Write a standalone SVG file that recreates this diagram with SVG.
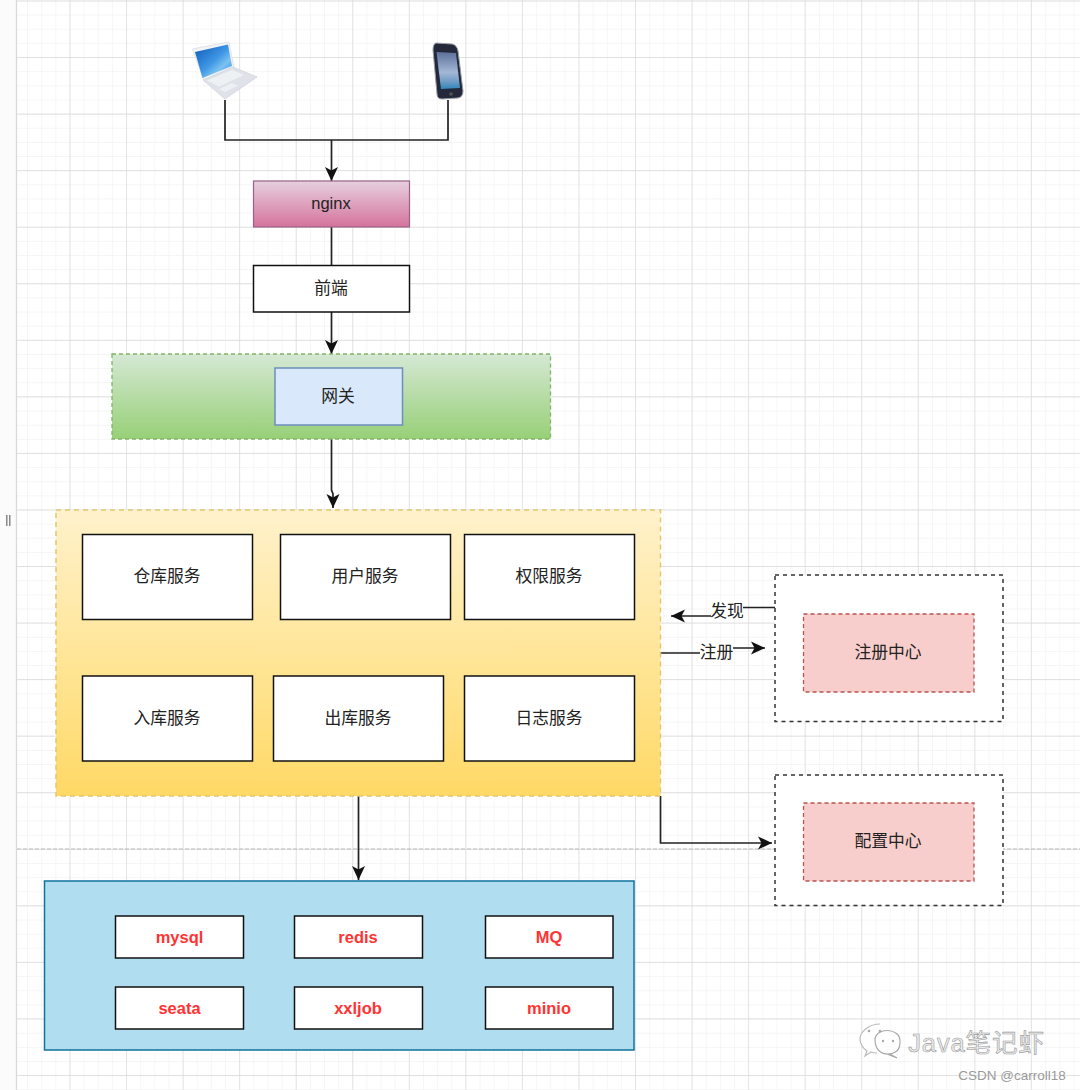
<svg xmlns="http://www.w3.org/2000/svg" width="1080" height="1090" viewBox="0 0 1080 1090">
<defs>
<pattern id="gridMinor" x="69.5" y="0.5" width="14.14" height="14.14" patternUnits="userSpaceOnUse"><path d="M14.14 0H0V14.14" fill="none" stroke="#f2f2f2" stroke-width="1.3"/></pattern>
<pattern id="gridMajor" x="69.5" y="0.5" width="56.55" height="56.55" patternUnits="userSpaceOnUse"><path d="M56.55 0H0V56.55" fill="none" stroke="#d9d9d9" stroke-width="1.3"/></pattern>
<linearGradient id="gPink" x1="0" y1="0" x2="0" y2="1"><stop offset="0" stop-color="#e6d0de"/><stop offset="1" stop-color="#d5739d"/></linearGradient>
<linearGradient id="gGreen" x1="0" y1="0" x2="0" y2="1"><stop offset="0" stop-color="#d5e8d4"/><stop offset="1" stop-color="#97d077"/></linearGradient>
<linearGradient id="gYellow" x1="0" y1="0" x2="0" y2="1"><stop offset="0" stop-color="#fff2cc"/><stop offset="1" stop-color="#ffd966"/></linearGradient>
<linearGradient id="gScreen" x1="0" y1="0" x2="1" y2="1"><stop offset="0" stop-color="#0d58b8"/><stop offset="0.5" stop-color="#3f97e4"/><stop offset="0.7" stop-color="#7cc2f2"/><stop offset="1" stop-color="#2a7fd6"/></linearGradient>
<linearGradient id="gPhone" x1="0" y1="0" x2="0" y2="1"><stop offset="0" stop-color="#5c7199"/><stop offset="0.55" stop-color="#a3b7d6"/><stop offset="0.8" stop-color="#6f9cc4"/><stop offset="1" stop-color="#2f86b8"/></linearGradient>
<marker id="arrow" markerUnits="userSpaceOnUse" markerWidth="16" markerHeight="16" refX="15" refY="8" orient="auto"><path d="M1 1.500L15 8L1 14.500L4.500 8Z" fill="#111"/></marker>
<style>
.box{fill:#fff;stroke:#111;stroke-width:1.5}
.inner{fill:#f8cecc;stroke:#b85450;stroke-width:1.3;stroke-dasharray:4 3}
.outer{fill:#fff;stroke:#333;stroke-width:1.5;stroke-dasharray:4 4}
.conn{fill:none;stroke:#222;stroke-width:1.7}
.arr{marker-end:url(#arrow)}
text{text-anchor:middle}
.t{font-family:"Noto Sans CJK SC","Liberation Sans",sans-serif;font-size:16.800px;fill:#222}
.n{font-family:"Liberation Sans",Arial,sans-serif;font-size:16.500px;fill:#222}
.r{font-family:"Liberation Sans",Arial,sans-serif;font-size:16.500px;font-weight:bold;fill:#ff3333}
</style>
</defs>
<rect width="1080" height="1090" fill="#fff"/>
<g id="grid">
<rect x="16.500" width="1063.500" height="1090" fill="url(#gridMinor)"/>
<rect x="16.500" width="1063.500" height="1090" fill="url(#gridMajor)"/>
<rect width="16" height="1090" fill="#fbfbfb"/>
<line x1="16.500" y1="0" x2="16.500" y2="1090" stroke="#d9d9d9" stroke-width="1.300"/>
<path d="M6 515h1.500v11H6zM9 515h1.500v11H9z" fill="#888"/>
<line x1="17" y1="849" x2="1080" y2="849" stroke="#bdbdbd" stroke-width="1.200" stroke-dasharray="4 2"/>
</g>
<g id="laptop">
<path d="M192.500 49L229 42L234 68L204 81Z" fill="#f2f4f7" stroke="#dfe3e8"/>
<path d="M195 52L228 44.500L232 66L202.500 78Z" fill="url(#gScreen)"/>
<path d="M203 80L233 67L257 77L225 99Z" fill="#dfe3e9" stroke="#cfd4db" stroke-width="0.800"/>
<path d="M206 80.500L232 69.500L245 75L219 87Z" fill="#eef1f4" stroke="#d6dbe1" stroke-width="0.500"/>
<path d="M219 89L232 83L238 85.500L225 92Z" fill="#edf0f3"/>
</g>
<g id="phone">
<path d="M436 43L452 44Q457 45 458 51L463 91Q463 97 458 98L442 99Q437 99 437 94L433 50Q433 44 436 43Z" fill="#23283a" stroke="#9a9fa6" stroke-width="1"/>
<path d="M436.500 52L456 53L460 88L441 89Z" fill="url(#gPhone)"/>
<circle cx="451" cy="94" r="1.800" fill="#555"/>
</g>
<g id="connectors">
<path class="conn" d="M225 100V140H331"/>
<path class="conn" d="M448 100V140H331"/>
<path class="conn arr" d="M331.500 140V181"/>
<path class="conn" d="M331.500 227V265"/>
<path class="conn arr" d="M331.500 312V354"/>
<path class="conn arr" d="M331.500 439V490L333 494V508"/>
<path class="conn arr" d="M358.500 796V880"/>
<path class="conn arr" d="M660 653H716V648H765"/>
<path class="conn arr" d="M775 607.500H740V616H671"/>
<path class="conn arr" d="M660.500 796V843H772"/>
</g>
<g id="nginx"><rect x="253.500" y="181" width="156" height="46" fill="url(#gPink)" stroke="#996185" stroke-width="1.200"/><text class="n" x="331" y="209">nginx</text></g>
<g id="frontend"><rect class="box" x="253.500" y="265.500" width="156" height="46.500"/><text class="t" x="331" y="294">前端</text></g>
<g id="gateway-zone"><rect x="112" y="354" width="438.500" height="85" fill="url(#gGreen)" stroke="#82b366" stroke-width="1.300" stroke-dasharray="4 3"/></g>
<g id="gateway"><rect x="275" y="368" width="127.500" height="57" fill="#dae8fc" stroke="#6c8ebf" stroke-width="1.500"/><text class="t" x="338" y="402">网关</text></g>
<g id="services-zone"><rect x="56" y="510" width="604.500" height="286" fill="url(#gYellow)" stroke="#e5c56f" stroke-width="1.500" stroke-dasharray="5 4"/></g>
<g id="svc-warehouse"><rect class="box" x="82.500" y="534.500" width="170" height="85"/><text class="t" x="167" y="582">仓库服务</text></g>
<g id="svc-user"><rect class="box" x="280.500" y="534.500" width="170" height="85"/><text class="t" x="365" y="582">用户服务</text></g>
<g id="svc-auth"><rect class="box" x="464.500" y="534.500" width="170" height="85"/><text class="t" x="549" y="582">权限服务</text></g>
<g id="svc-in"><rect class="box" x="82.500" y="676" width="170" height="85"/><text class="t" x="167" y="723.500">入库服务</text></g>
<g id="svc-out"><rect class="box" x="273.500" y="676" width="170" height="85"/><text class="t" x="358" y="723.500">出库服务</text></g>
<g id="svc-log"><rect class="box" x="464.500" y="676" width="170" height="85"/><text class="t" x="549" y="723.500">日志服务</text></g>
<g id="labels">
<rect x="711" y="601" width="32" height="19" fill="#fff"/><text class="t" x="727" y="616.500">发现</text>
<rect x="700" y="643" width="33" height="18" fill="#fff"/><text class="t" x="716.500" y="657.500">注册</text>
</g>
<g id="registry"><rect class="outer" x="775" y="575" width="228" height="146.500"/><rect class="inner" x="803.500" y="614" width="170.500" height="78"/><text class="t" x="888" y="657.500">注册中心</text></g>
<g id="config"><rect class="outer" x="775" y="775" width="228" height="130.500"/><rect class="inner" x="803.500" y="803" width="170.500" height="78"/><text class="t" x="888" y="847">配置中心</text></g>
<g id="storage-zone"><rect x="44.500" y="881" width="589.500" height="169" fill="#b1ddf0" stroke="#10739e" stroke-width="1.500"/></g>
<g id="mysql"><rect class="box" x="115.500" y="916" width="128" height="42"/><text class="r" x="179.500" y="943">mysql</text></g>
<g id="redis"><rect class="box" x="294.500" y="916" width="128" height="42"/><text class="r" x="358" y="943">redis</text></g>
<g id="mq"><rect class="box" x="485.500" y="916" width="127.500" height="42"/><text class="r" x="549" y="943">MQ</text></g>
<g id="seata"><rect class="box" x="115.500" y="987" width="128" height="42"/><text class="r" x="179.500" y="1014">seata</text></g>
<g id="xxljob"><rect class="box" x="294.500" y="987" width="128" height="42"/><text class="r" x="358" y="1014">xxljob</text></g>
<g id="minio"><rect class="box" x="485.500" y="987" width="127.500" height="42"/><text class="r" x="549" y="1014">minio</text></g>
<g id="watermark">
<path d="M880 1024C870 1024 860 1031 860 1039C860 1044 863 1048 867 1051L865 1056L871 1052C873 1053 875 1053 877 1053" fill="#fff" stroke="#bcbcbc" stroke-width="1.200"/>
<path d="M875 1040C875 1027 901 1027 900 1042C900 1050 895 1054 887 1054L897 1058L890 1054C881 1055 875 1049 875 1040Z" fill="#fff" stroke="#a8a8a8" stroke-width="1.200"/>
<circle cx="869" cy="1031" r="1.300" fill="#aaa"/><circle cx="880" cy="1031" r="1.300" fill="#aaa"/><circle cx="883" cy="1041" r="1.200" fill="#aaa"/><circle cx="893" cy="1041" r="1.200" fill="#aaa"/>
<text x="976.500" y="1052" font-family="'Liberation Sans','Noto Sans CJK SC',sans-serif" font-size="25.500" fill="#eeeeee" stroke="#999" stroke-width="0.600" letter-spacing="0.900">Java笔记虾</text>
<text x="1012" y="1080" font-family="'Liberation Sans',Arial,sans-serif" font-size="13.500" fill="#9a9a9a">CSDN @carroll18</text>
</g>
</svg>
